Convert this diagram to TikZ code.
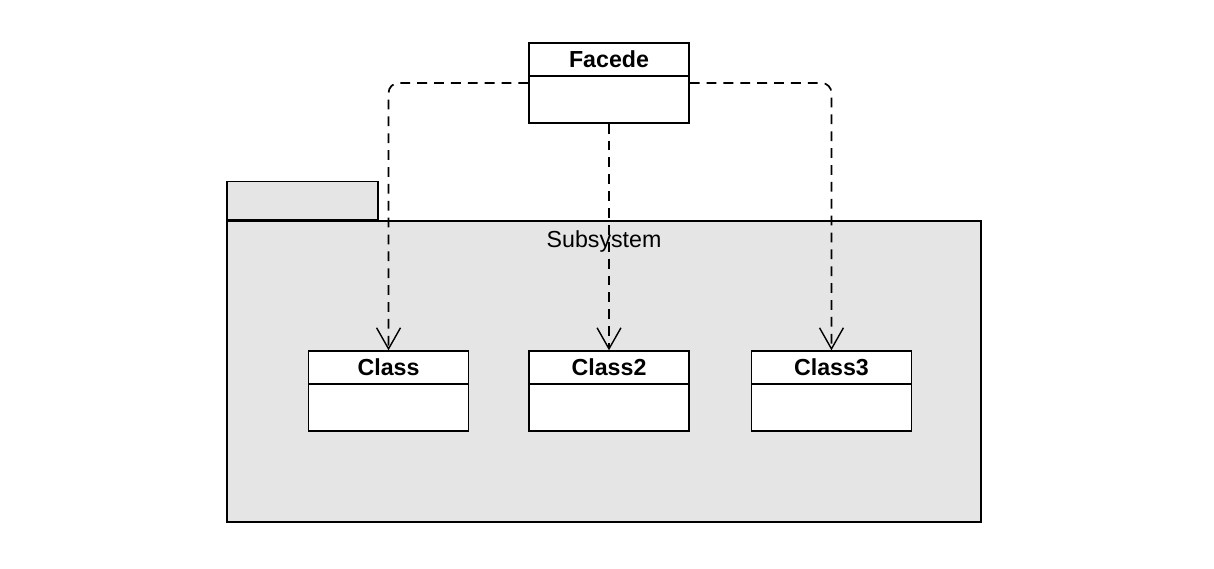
\documentclass[tikz,border=0pt]{standalone}
\usepackage{fontspec}
\setmainfont{Liberation Sans}
\usepackage{tikz}
\usetikzlibrary{positioning, arrows.meta}

\begin{document}
\begin{tikzpicture}[
    x=0.025cm, y=-0.025cm,
    every node/.style={font=\fontsize{16.5}{20}\selectfont},
    classbox/.style={draw, line width=1pt, fill=white, minimum width=4cm, minimum height=2cm, inner sep=0pt},
    classname/.style={draw, line width=1pt, minimum width=4cm, minimum height=.825cm, inner sep=0pt, anchor=north, font=\fontsize{16.5}{20}\selectfont\bfseries},
    package/.style={draw, line width=1pt, fill=black!10, inner sep=0pt},
    dep/.style={draw, line width=1.2pt, dash pattern=on 7pt off 5pt, rounded corners=.25cm, -{Straight Barb[length=15pt, width=17pt, line width=1pt]}}
]
\useasboundingbox (0,0) rectangle (1214,568);

% Package
\node[package, minimum width=18.85cm, minimum height=7.525cm] (subsys) at (604,371.5) {};
\node[package, minimum width=3.775cm, minimum height=.95cm, anchor=south west] (tab) at (subsys.north west) {};
\node[anchor=north, inner sep=2pt, yshift=-.175cm] (subsysT) at (subsys.north) {Subsystem};

% Nodes
\node[classbox] (facade) at (609,83) {};
\node[classname] (facadeT) at (facade.north) {Facede};
\node[classbox] (class2) at (609,391) {};
\node[classbox, left=1.475cm of class2] (class1) {};
\node[classbox, right=1.525cm of class2] (class3) {};
\node[classname] (class1T) at (class1.north) {Class};
\node[classname] (class2T) at (class2.north) {Class2};
\node[classname] (class3T) at (class3.north) {Class3};

% Edges (dependencies)
\draw[dep] (facade.west) -| (class1.north);
\draw[dep] (facade.south) -- (class2.north);
\draw[dep] (facade.east) -| (class3.north);

\end{tikzpicture}
\end{document}
